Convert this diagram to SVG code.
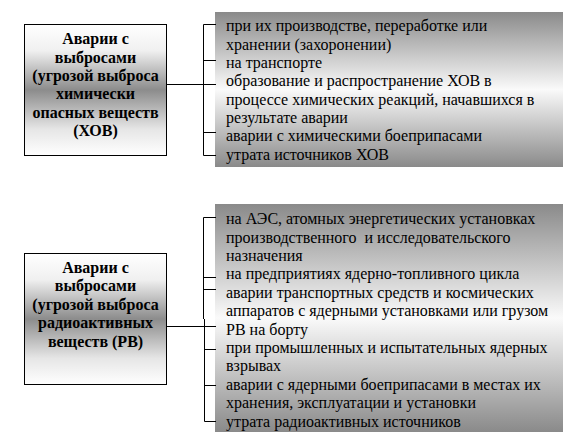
<svg xmlns="http://www.w3.org/2000/svg" width="577" height="446" viewBox="0 0 577 446">
<defs>
<linearGradient id="gBox" x1="0" y1="0" x2="0" y2="1">
<stop offset="0" stop-color="#ffffff"/>
<stop offset="0.2" stop-color="#f0f0f0"/>
<stop offset="0.5" stop-color="#8c8c8c"/>
<stop offset="0.8" stop-color="#e6e6e6"/>
<stop offset="1" stop-color="#ffffff"/>
</linearGradient>
<linearGradient id="gList" x1="0" y1="0" x2="0" y2="1">
<stop offset="0" stop-color="#8a8a8a"/>
<stop offset="0.5" stop-color="#fafafa"/>
<stop offset="1" stop-color="#8a8a8a"/>
</linearGradient>
</defs>
<style>
.box{fill:url(#gBox);stroke:#000;stroke-width:1}
.list{fill:url(#gList)}
.ht{font-family:"Liberation Serif","Times New Roman",serif;font-size:16px;font-weight:bold;text-anchor:middle;fill:#000}
.lt{font-family:"Liberation Serif","Times New Roman",serif;font-size:16px;fill:#000}
.ln{stroke:#000;stroke-width:1;fill:none}
</style>
<rect width="577" height="446" fill="#fff"/>
<g id="list1">
<rect class="list" x="215" y="12" width="348" height="155"/>
<text class="lt" x="226" y="31">при их производстве, переработке или</text>
<text class="lt" x="226" y="49.5">хранении (захоронении)</text>
<text class="lt" x="226" y="68">на транспорте</text>
<text class="lt" x="226" y="86">образование и распространение ХОВ в</text>
<text class="lt" x="226" y="104.5">процессе химических реакций, начавшихся в</text>
<text class="lt" x="226" y="123">результате аварии</text>
<text class="lt" x="226" y="141">аварии с химическими боеприпасами</text>
<text class="lt" x="226" y="159.5">утрата источников ХОВ</text>
</g>
<g id="list2">
<rect class="list" x="215" y="204" width="348" height="228"/>
<text class="lt" x="226" y="224">на АЭС, атомных энергетических установках</text>
<text class="lt" x="226" y="242.5" xml:space="preserve">производственного  и исследовательского</text>
<text class="lt" x="226" y="261">назначения</text>
<text class="lt" x="226" y="279">на предприятиях ядерно-топливного цикла</text>
<text class="lt" x="226" y="297.5">аварии транспортных средств и космических</text>
<text class="lt" x="226" y="316">аппаратов с ядерными установками или грузом</text>
<text class="lt" x="226" y="334.5">РВ на борту</text>
<text class="lt" x="226" y="353">при промышленных и испытательных ядерных</text>
<text class="lt" x="226" y="371">взрывах</text>
<text class="lt" x="226" y="389.5">аварии с ядерными боеприпасами в местах их</text>
<text class="lt" x="226" y="408">хранения, эксплуатации и установки</text>
<text class="lt" x="226" y="426.5">утрата радиоактивных источников</text>
</g>
<g id="box1">
<rect class="box" x="24.5" y="24.5" width="142" height="131"/>
<text class="ht" x="95.5" y="44">Аварии с</text>
<text class="ht" x="95.5" y="62.5">выбросами</text>
<text class="ht" x="95.5" y="81">(угрозой выброса</text>
<text class="ht" x="95.5" y="99">химически</text>
<text class="ht" x="95.5" y="117.5">опасных веществ</text>
<text class="ht" x="95.5" y="136">(ХОВ)</text>
</g>
<g id="box2">
<rect class="box" x="24.5" y="253.5" width="142" height="131"/>
<text class="ht" x="95.5" y="272.5">Аварии с</text>
<text class="ht" x="95.5" y="291">выбросами</text>
<text class="ht" x="95.5" y="309.5">(угрозой выброса</text>
<text class="ht" x="95.5" y="328">радиоактивных</text>
<text class="ht" x="95.5" y="346.5">веществ (РВ)</text>
</g>
<g id="connectors">
<path class="ln" d="M166.5 84.5H216M203.5 24.5V155.5M203.5 24.5H216M203.5 60.5H216M203.5 132.5H216M203.5 155.5H216"/>
<path class="ln" d="M166.5 326.5H216M203.5 217.5V319M204.5 319V421.5M203.5 217.5H216M203.5 277.5H216M203.5 289.5H216M204.5 349.5H216M204.5 385.5H216M204.5 421.5H216"/>
</g>
</svg>
